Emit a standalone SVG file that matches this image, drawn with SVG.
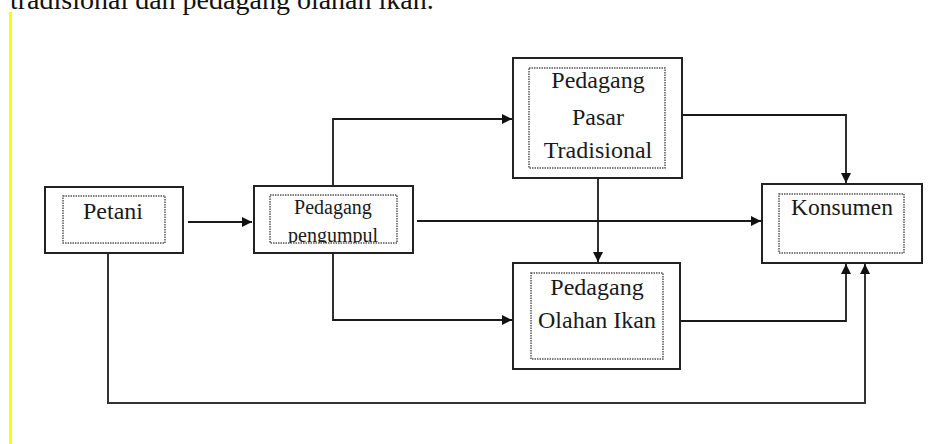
<svg xmlns="http://www.w3.org/2000/svg" width="943" height="444" viewBox="0 0 943 444">
<style>
.outer{fill:#fff;stroke:#222;stroke-width:2}
.inner{fill:none;stroke:#555;stroke-width:1.5;stroke-dasharray:1.5 1}
.t{font-family:"Liberation Serif","Times New Roman",serif;fill:#1a1a1a;text-anchor:middle}
.c{fill:none;stroke:#1a1a1a;stroke-width:1.8}
</style>
<defs>
<marker id="ah" viewBox="0 0 10 10" refX="10" refY="5" markerWidth="10" markerHeight="10" markerUnits="userSpaceOnUse" orient="auto">
<path d="M0,0 L10,5 L0,10 z" fill="#111"/>
</marker>
<clipPath id="clipP"><rect x="270" y="195" width="127" height="48"/></clipPath>
</defs>
<rect width="943" height="444" fill="#fff"/>
<text x="10" y="9" style="font-family:'Liberation Serif','Times New Roman',serif;font-size:28px;fill:#111">tradisional dan pedagang olahan ikan.</text>
<rect x="9" y="12" width="3" height="432" fill="#ffff00"/>
<g id="connectors">
<path class="c" d="M188,222 H252" marker-end="url(#ah)"/>
<path class="c" d="M333,186 V119 H512" marker-end="url(#ah)"/>
<path class="c" d="M333,253 V320 H512" marker-end="url(#ah)"/>
<path class="c" d="M417,221 H761" marker-end="url(#ah)"/>
<path class="c" d="M682,115 H846 V183" marker-end="url(#ah)"/>
<path class="c" d="M598,178 V262" marker-end="url(#ah)"/>
<path class="c" d="M680,321 H846 V264" marker-end="url(#ah)"/>
<path class="c" d="M108,253 V403 H865 V264" marker-end="url(#ah)" style="stroke:#333;stroke-width:2"/>
</g>
<g id="petani">
<rect class="outer" x="45" y="187" width="138" height="66"/>
<rect class="inner" x="63" y="196" width="102" height="47"/>
<text class="t" x="113" y="219" style="font-size:24px">Petani</text>
</g>
<g id="pengumpul">
<rect class="outer" x="254" y="186" width="159" height="67"/>
<g clip-path="url(#clipP)">
<text class="t" x="333" y="214" style="font-size:20px">Pedagang</text>
<text class="t" x="333" y="242" style="font-size:20px">pengumpul</text>
</g>
<rect class="inner" x="270" y="195" width="127" height="48"/>
</g>
<g id="pasar">
<rect class="outer" x="513" y="58" width="169" height="120"/>
<rect class="inner" x="529" y="68" width="136" height="100"/>
<text class="t" x="598" y="88" style="font-size:24px">Pedagang</text>
<text class="t" x="598" y="125" style="font-size:24px">Pasar</text>
<text class="t" x="598" y="158" style="font-size:24px">Tradisional</text>
</g>
<g id="olahan">
<rect class="outer" x="513" y="263" width="167" height="106"/>
<rect class="inner" x="531" y="273" width="132" height="86"/>
<text class="t" x="597" y="295" style="font-size:24px">Pedagang</text>
<text class="t" x="597" y="328" style="font-size:24px">Olahan Ikan</text>
</g>
<g id="konsumen">
<rect class="outer" x="762" y="184" width="160" height="79"/>
<rect class="inner" x="779" y="194" width="125" height="59"/>
<text class="t" x="842" y="215" style="font-size:23.5px">Konsumen</text>
</g>
</svg>
